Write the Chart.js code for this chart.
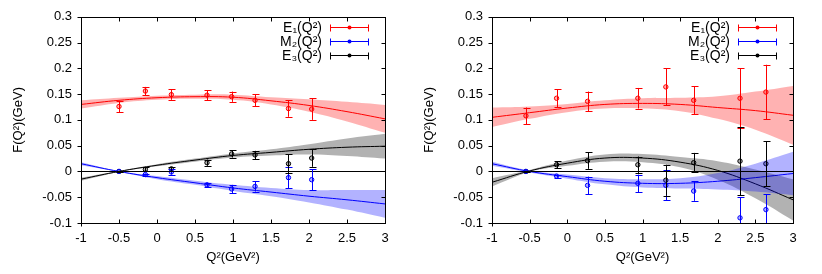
<!DOCTYPE html>
<html>
<head>
<meta charset="utf-8">
<script src="https://cdn.jsdelivr.net/npm/chart.js@4.4.1/dist/chart.umd.min.js"></script>
<style>
body { margin: 0; background: #fff; }
.panel { position: absolute; top: 0; width: 411px; height: 274px; }
</style>
</head>
<body>
<div class="panel" style="left:0"><canvas id="left"></canvas></div>
<div class="panel" style="left:411px"><canvas id="right"></canvas></div>
<script>
var seriesNames = ['E\u2081(Q\u00B2)', 'M\u2082(Q\u00B2)', 'E\u2083(Q\u00B2)'];
var seriesColors = ['#ff0000', '#0000ff', '#000000'];
var bandColors = ['rgba(255,0,0,0.3)', 'rgba(0,0,255,0.3)', 'rgba(0,0,0,0.3)'];

// x grid for fitted curves and error bands
var fitQ2 = [-1, -0.5, 0, 0.5, 1, 1.5, 2, 2.5, 3];

// left panel
var q2Left = [-0.5, -0.153, 0.189, 0.658, 0.982, 1.29, 1.73, 2.035];
var e1Left = [0.126, 0.156, 0.149, 0.148, 0.145, 0.138, 0.122, 0.121];
var e1LeftErr = [0.011, 0.008, 0.010, 0.010, 0.010, 0.012, 0.016, 0.021];
var m2Left = [0, -0.006, -0.001, -0.026, -0.034, -0.029, -0.012, -0.016];
var m2LeftErr = [0.001, 0.002, 0.005, 0.004, 0.008, 0.010, 0.021, 0.020];
var e3Left = [0, 0.004, 0.005, 0.017, 0.034, 0.032, 0.015, 0.026];
var e3LeftErr = [0.001, 0.004, 0.004, 0.006, 0.007, 0.008, 0.018, 0.017];
var e1LeftFit = [0.130, 0.138, 0.143, 0.145, 0.144, 0.137, 0.128, 0.116, 0.102];
var e1LeftBand = [0.008, 0.005, 0.004, 0.004, 0.005, 0.007, 0.012, 0.019, 0.027];
var m2LeftFit = [0.015, 0, -0.012, -0.022, -0.032, -0.040, -0.048, -0.055, -0.063];
var m2LeftBand = [0.003, 0.001, 0.003, 0.004, 0.006, 0.008, 0.012, 0.019, 0.027];
var e3LeftFit = [-0.015, 0, 0.012, 0.022, 0.031, 0.037, 0.043, 0.047, 0.049];
var e3LeftBand = [0.003, 0.001, 0.002, 0.003, 0.004, 0.006, 0.010, 0.017, 0.024];

// right panel
var q2Right = [-0.549, -0.142, 0.27, 0.938, 1.31, 1.68, 2.296, 2.64];
var e1Right = [0.108, 0.142, 0.136, 0.142, 0.164, 0.138, 0.142, 0.154];
var e1RightErr = [0.016, 0.017, 0.019, 0.020, 0.036, 0.027, 0.058, 0.053];
var m2Right = [0, -0.009, -0.027, -0.023, -0.027, -0.038, -0.090, -0.074];
var m2RightErr = [0.001, 0.003, 0.017, 0.017, 0.029, 0.019, 0.040, 0.030];
var e3Right = [0, 0.013, 0.021, 0.013, -0.017, 0.017, 0.020, 0.015];
var e3RightErr = [0.001, 0.007, 0.016, 0.016, 0.030, 0.019, 0.066, 0.044];
var e1RightFit = [0.105, 0.114, 0.123, 0.130, 0.132, 0.130, 0.124, 0.118, 0.109];
var e1RightBand = [0.019, 0.012, 0.008, 0.008, 0.010, 0.013, 0.022, 0.037, 0.057];
var m2RightFit = [0.015, 0, -0.010, -0.019, -0.023, -0.023, -0.019, -0.012, -0.004];
var m2RightBand = [0.004, 0.002, 0.004, 0.006, 0.008, 0.010, 0.016, 0.027, 0.042];
var e3RightFit = [-0.021, 0.001, 0.016, 0.026, 0.026, 0.018, 0.002, -0.024, -0.055];
var e3RightBand = [0.008, 0.002, 0.005, 0.007, 0.008, 0.010, 0.018, 0.028, 0.040];

var yTicks = [-0.1, -0.05, 0, 0.05, 0.1, 0.15, 0.2, 0.25, 0.3];
var xTicks = [-1, -0.5, 0, 0.5, 1, 1.5, 2, 2.5, 3];

var FONT = "'Liberation Sans', Arial, sans-serif";

function pts(xs, ys) {
    return xs.map(function (x, i) { return { x: x, y: ys[i] }; });
}
function shift(xs, ys, ds, sign) {
    return xs.map(function (x, i) { return { x: x, y: ys[i] + sign * ds[i] }; });
}
function fmt(v) {
    return String(Number(Number(v).toFixed(2)));
}

// frame, zero line, error bars and gnuplot-like key
var decorPlugin = {
    id: 'decor',
    afterDatasetsDraw: function (chart) {
        var ctx = chart.ctx, a = chart.chartArea;
        var xs = chart.scales.x, ys = chart.scales.y;
        ctx.save();
        ctx.beginPath();
        ctx.rect(a.left, a.top, a.right - a.left, a.bottom - a.top);
        ctx.clip();
        // zero line
        ctx.strokeStyle = '#000';
        ctx.lineWidth = 1;
        ctx.beginPath();
        var y0 = Math.round(ys.getPixelForValue(0)) + 0.5;
        ctx.moveTo(a.left, y0);
        ctx.lineTo(a.right, y0);
        ctx.stroke();
        // error bars
        var eb = chart.options.plugins.decor.errors;
        eb.forEach(function (s, k) {
            ctx.strokeStyle = seriesColors[k];
            ctx.lineWidth = 1;
            s.y.forEach(function (v, i) {
                var px = Math.round(xs.getPixelForValue(s.x[i])) + 0.5;
                var top = ys.getPixelForValue(v + s.e[i]);
                var bot = ys.getPixelForValue(v - s.e[i]);
                ctx.beginPath();
                ctx.moveTo(px, top); ctx.lineTo(px, bot);
                ctx.moveTo(px - 3, Math.round(top) + 0.5); ctx.lineTo(px + 4, Math.round(top) + 0.5);
                ctx.moveTo(px - 3, Math.round(bot) + 0.5); ctx.lineTo(px + 4, Math.round(bot) + 0.5);
                ctx.stroke();
            });
        });
        ctx.restore();
    },
    afterDraw: function (chart) {
        var ctx = chart.ctx, a = chart.chartArea;
        var xs = chart.scales.x, ys = chart.scales.y;
        var L = Math.round(a.left) + 0.5, R = Math.round(a.right) + 0.5;
        var T = Math.round(a.top) + 0.5, B = Math.round(a.bottom) + 0.5;
        ctx.save();
        ctx.strokeStyle = '#000';
        ctx.lineWidth = 1;
        ctx.strokeRect(L, T, R - L, B - T);
        ctx.beginPath();
        yTicks.forEach(function (v) {
            var py = Math.round(ys.getPixelForValue(v)) + 0.5;
            ctx.moveTo(L - 4, py); ctx.lineTo(L, py);
            ctx.moveTo(R - 4, py); ctx.lineTo(R, py);
        });
        xTicks.forEach(function (v) {
            var px = Math.round(xs.getPixelForValue(v)) + 0.5;
            ctx.moveTo(px, B); ctx.lineTo(px, B - 4);
            ctx.moveTo(px, T); ctx.lineTo(px, T + 4);
        });
        ctx.moveTo(L, B); ctx.lineTo(L, B + 3);
        ctx.stroke();
        // key
        ctx.font = '14px ' + FONT;
        ctx.textAlign = 'right';
        ctx.textBaseline = 'middle';
        seriesNames.forEach(function (name, k) {
            var ry = Math.round(a.top + 10 + k * 14.3) + 0.5;
            ctx.fillStyle = '#000';
            ctx.fillText(name, a.right - 63, ry + 1);
            var x1 = Math.round(a.right - 55) + 0.5, x2 = Math.round(a.right - 17) + 0.5;
            ctx.strokeStyle = seriesColors[k];
            ctx.beginPath();
            ctx.moveTo(x1, ry); ctx.lineTo(x2, ry);
            ctx.moveTo(x1, ry - 3); ctx.lineTo(x1, ry + 4);
            ctx.moveTo(x2, ry - 3); ctx.lineTo(x2, ry + 4);
            ctx.stroke();
            ctx.beginPath();
            ctx.arc((x1 + x2) / 2, ry, 2, 0, Math.PI * 2);
            ctx.fillStyle = seriesColors[k];
            ctx.fill();
        });
        ctx.restore();
    }
};

function makePanel(id, q2, vals, errs, fits, bands, padRight) {
    var datasets = [];
    for (var k = 0; k < 3; k++) {
        datasets.push({
            data: shift(fitQ2, fits[k], bands[k], 1),
            showLine: true, borderWidth: 0, pointRadius: 0, tension: 0.4,
            backgroundColor: bandColors[k], fill: false
        });
        datasets.push({
            data: shift(fitQ2, fits[k], bands[k], -1),
            showLine: true, borderWidth: 0, pointRadius: 0, tension: 0.4,
            backgroundColor: bandColors[k], fill: '-1'
        });
    }
    for (var k2 = 0; k2 < 3; k2++) {
        datasets.push({
            data: pts(fitQ2, fits[k2]),
            showLine: true, borderWidth: 1, borderColor: seriesColors[k2],
            pointRadius: 0, tension: 0.4, fill: false
        });
    }
    for (var k3 = 0; k3 < 3; k3++) {
        datasets.push({
            data: pts(q2, vals[k3]),
            showLine: false, pointRadius: 2.2, pointBorderWidth: 1,
            borderColor: seriesColors[k3], backgroundColor: bandColors[k3]
        });
    }
    var errors = [0, 1, 2].map(function (k) { return { x: q2, y: vals[k], e: errs[k] }; });

    return new Chart(document.getElementById(id), {
        type: 'scatter',
        data: { datasets: datasets },
        plugins: [decorPlugin],
        options: {
            responsive: true,
            maintainAspectRatio: false,
            animation: false,
            events: [],
            layout: { padding: { top: 16, right: padRight, left: 0, bottom: 0 } },
            plugins: {
                legend: { display: false },
                tooltip: { enabled: false },
                decor: { errors: errors }
            },
            scales: {
                x: {
                    type: 'linear', min: -1, max: 3,
                    grid: { display: false, drawTicks: false }, border: { display: false },
                    afterBuildTicks: function (s) { s.ticks = xTicks.map(function (v) { return { value: v }; }); },
                    afterFit: function (s) { s.height = 51; },
                    ticks: {
                        callback: fmt, padding: 8, maxRotation: 0, autoSkip: false,
                        color: '#000', font: { family: FONT, size: 13 }
                    },
                    title: {
                        display: true, text: 'Q\u00B2(GeV\u00B2)', color: '#000',
                        font: { family: FONT, size: 13 }, padding: { top: 0, bottom: 9 }
                    }
                },
                y: {
                    min: -0.1, max: 0.3,
                    grid: { display: false, drawTicks: false }, border: { display: false },
                    afterBuildTicks: function (s) { s.ticks = yTicks.map(function (v) { return { value: v }; }); },
                    afterFit: function (s) { s.width = 81; },
                    ticks: {
                        callback: fmt, padding: 9, autoSkip: false,
                        color: '#000', font: { family: FONT, size: 13 }
                    },
                    title: {
                        display: true, text: 'F(Q\u00B2)(GeV)', color: '#000',
                        font: { family: FONT, size: 13 }, padding: { top: 11, bottom: 0 }
                    }
                }
            }
        }
    });
}

makePanel('left', q2Left,
    [e1Left, m2Left, e3Left], [e1LeftErr, m2LeftErr, e3LeftErr],
    [e1LeftFit, m2LeftFit, e3LeftFit], [e1LeftBand, m2LeftBand, e3LeftBand], 26);

makePanel('right', q2Right,
    [e1Right, m2Right, e3Right], [e1RightErr, m2RightErr, e3RightErr],
    [e1RightFit, m2RightFit, e3RightFit], [e1RightBand, m2RightBand, e3RightBand], 29);
</script>
</body>
</html>
